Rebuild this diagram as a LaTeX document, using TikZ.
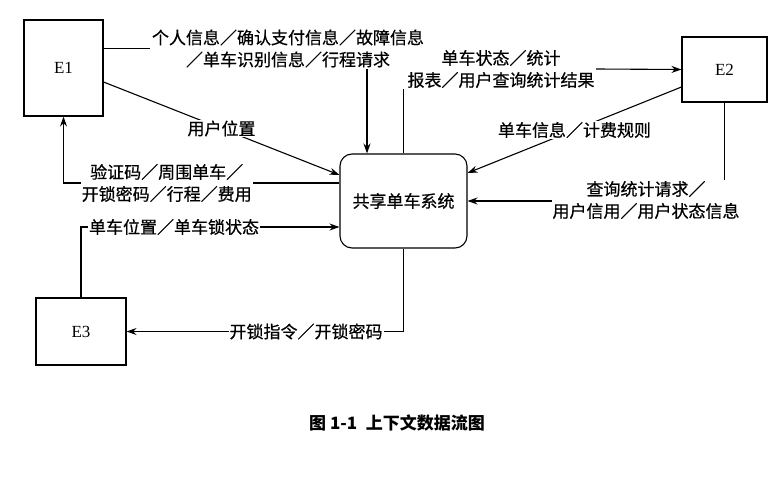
\documentclass[tikz,border=0pt]{standalone}
\usepackage{fontspec}
\setmainfont{Liberation Serif}
\newfontfamily\cjk[FakeBold=0.6]{Noto Sans CJK SC}
\newfontfamily\cjkcap{Noto Sans CJK SC}
\usetikzlibrary{arrows.meta}

\begin{document}
\begin{tikzpicture}[x=1pt,y=-1pt,line width=1.1pt,
  ent/.style={draw,inner sep=0pt,font=\fontsize{17}{20}\selectfont},
  lbl/.style={font=\cjk\fontsize{17}{22}\selectfont,align=center,inner sep=1pt},
  wlbl/.style={lbl,fill=white},
  arr/.style={-{Stealth[length=10pt,width=7pt]}}]
\useasboundingbox (0,0) rectangle (777,484);

\node[ent,minimum width=79pt,minimum height=96pt] (e1) at (63.5,68) {E1};
\node[ent,minimum width=85pt,minimum height=65pt] (e2) at (724.5,69.5) {E2};
\node[ent,minimum width=90pt,minimum height=67pt] (e3) at (81,331.5) {E3};
\node[draw,lbl,rounded corners=12pt,minimum width=127pt,minimum height=94pt] (sys) at (403.5,201) {共享单车系统};

\node[lbl] (lA) at (288,48.5) {个人信息／确认支付信息／故障信息\\／单车识别信息／行程请求};
\node[lbl] (lD) at (501,69) {单车状态／统计\\报表／用户查询统计结果};
\coordinate (aX) at (367,0);

% E1
\draw (e1.east |- lA.west) -- (lA.west);
\draw[arr] (lA.south -| aX) -- (aX |- sys.north);
\draw[arr] ([yshift=-14pt]e1.east) -- node[wlbl] {用户位置} ([yshift=26pt]sys.west);
\draw[arr] ([yshift=18pt]sys.west) -| node[wlbl,pos=0.313] {验证码／周围单车／\\开锁密码／行程／费用} (e1.south);

% E2
\draw (sys.north) -- (sys.north |- lD.south);
\draw[arr] (lD.east) -- (e2.west);
\draw[arr] ([yshift=-17.5pt]e2.west) -- node[wlbl] {单车信息／计费规则} ([yshift=28pt]sys.east);
\draw[arr] (e2.south) |- (sys.east);
\node[wlbl] (lH) at (646,200) {查询统计请求／\\用户信用／用户状态信息};

% E3
\draw[arr] (e3.north) |- node[wlbl,pos=0.68] {单车位置／单车锁状态} ([yshift=-26pt]sys.west);
\draw[arr] (sys.south) |- node[wlbl,pos=0.676] {开锁指令／开锁密码} (e3.east);

\node[font=\cjkcap\bfseries\fontsize{17}{20}\selectfont] (cap) at (397,423) {图 1-1\enspace 上下文数据流图};
\end{tikzpicture}
\end{document}
